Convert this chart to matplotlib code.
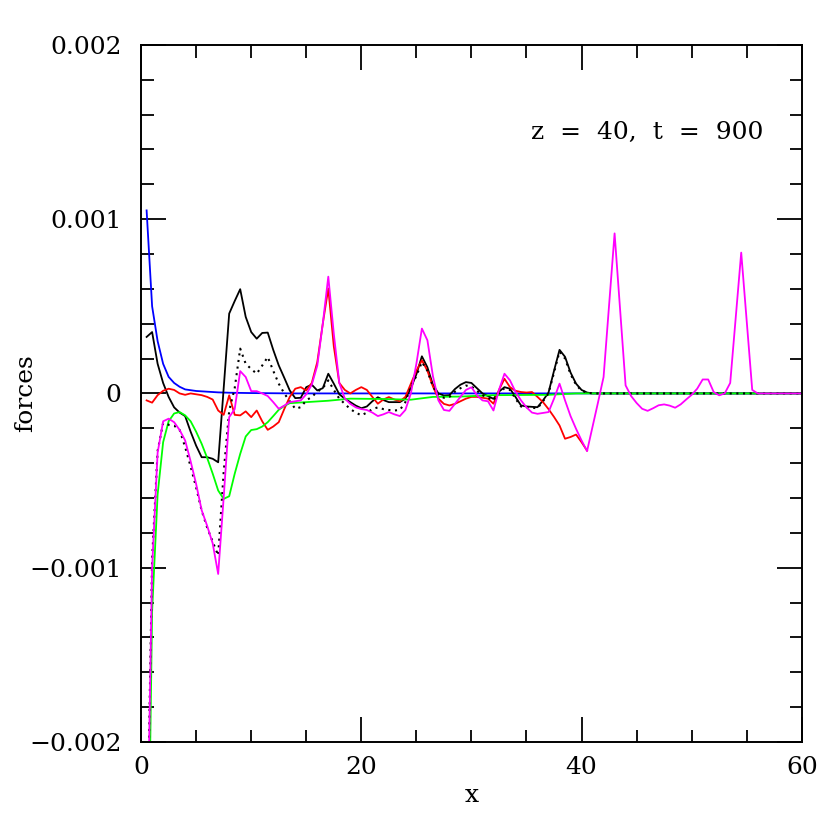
import numpy as np
import matplotlib
matplotlib.use('Agg')
from matplotlib import pyplot as plt
from matplotlib.ticker import MultipleLocator, FixedLocator, FixedFormatter

plt.rcParams['font.family'] = ['DejaVu Serif']

SCALE = 1e-4  # values below are in units of 1e-4

# blue
blue_x = [0.5, 1.0, 1.5, 2.0, 2.5, 3.0, 3.5, 4.0, 5.0, 6.0, 7.0, 8.0, 10.0, 14.0, 60.0]
blue_y = [10.5, 5.0, 3.0, 1.7, 0.95, 0.6, 0.38, 0.23, 0.14, 0.1, 0.06, 0.04, 0.02, 0.0, 0.0]

# black solid
black_x = [0.5, 1.0, 1.5, 2.0, 2.5, 3.0, 3.5, 4.0, 4.5, 5.0, 5.5, 6.0, 6.5, 7.0, 7.5, 8.0, 8.5, 9.0,
           9.5, 10.0, 10.5, 11.0, 11.5, 12.0, 12.5, 13.0, 13.5, 14.0, 14.5, 15.0, 15.5, 16.0, 16.5,
           17.0, 17.5, 18.0, 18.5, 19.0, 19.5, 20.0, 20.5, 21.0, 21.5, 22.0, 22.5, 23.0, 23.5, 24.0,
           24.5, 25.0, 25.5, 26.0, 26.5, 27.0, 27.5, 28.0, 28.5, 29.0, 29.5, 30.0, 30.5, 31.0, 31.5,
           32.0, 32.5, 33.0, 33.5, 34.0, 34.5, 35.0, 36.0, 36.5, 37.0, 37.5, 38.0, 38.5, 39.0, 39.5,
           40.0, 40.5, 41.0, 60.0]
black_y = [3.24, 3.52, 1.7, 0.6, -0.2, -0.8, -1.1, -1.3, -2.2, -3.0, -3.66, -3.66, -3.75, -3.95, 0.3,
           4.58, 5.3, 5.98, 4.39, 3.52, 3.14, 3.47, 3.49, 2.5, 1.61, 0.9, 0.17, -0.27, -0.25, 0.36,
           0.5, 0.17, 0.3, 1.13, 0.56, -0.05, -0.3, -0.5, -0.7, -0.85, -0.75, -0.45, -0.22, -0.38,
           -0.5, -0.5, -0.5, -0.3, 0.3, 1.1, 2.13, 1.5, 0.5, 0.0, -0.12, -0.1, 0.25, 0.5, 0.65, 0.6,
           0.3, 0.0, -0.15, -0.31, 0.1, 0.36, 0.27, -0.2, -0.69, -0.75, -0.79, -0.4, 0.05, 1.3, 2.5,
           2.1, 1.2, 0.56, 0.2, 0.05, 0.0, 0.0]

# black dotted
dot_x = black_x
dot_y = [-28.0, -9.5, -3.3, -1.7, -1.8, -1.85, -2.1, -3.08, -4.2, -5.4, -6.72, -7.7, -8.5, -9.3, -4.5,
         -1.0, 0.3, 2.57, 1.7, 1.4, 1.13, 1.6, 2.09, 1.3, 0.56, 0.0, -0.45, -0.88, -0.79, -0.4, -0.2,
         0.1, 0.3, 0.75, 0.2, -0.3, -0.6, -0.9, -1.1, -1.26, -1.1, -0.9, -0.8, -0.9, -0.95, -0.98,
         -0.95, -0.5, 0.4, 1.0, 1.8, 1.3, 0.4, -0.1, -0.25, -0.2, 0.1, 0.3, 0.45, 0.4, 0.15, -0.1,
         -0.25, -0.4, 0.0, 0.3, 0.2, -0.3, -0.75, -0.8, -0.85, -0.45, 0.0, 1.2, 2.4, 2.0, 1.1, 0.5,
         0.15, 0.05, 0.0, 0.0]

# red
red_x = [0.5, 1.0, 1.5, 2.0, 2.5, 3.0, 3.5, 4.0, 4.5, 5.0, 5.5, 6.0, 6.5, 7.0, 7.5, 8.0, 8.5, 9.0, 9.5,
         10.0, 10.5, 11.0, 11.5, 12.0, 12.5, 13.0, 13.5, 14.0, 14.5, 15.0, 15.5, 16.0, 16.5, 17.0,
         17.5, 18.0, 18.5, 19.0, 19.5, 20.0, 20.5, 21.0, 21.5, 22.0, 22.5, 23.0, 23.5, 24.0, 24.5,
         25.0, 25.5, 26.0, 26.5, 27.0, 27.5, 28.0, 28.5, 29.0, 29.5, 30.0, 30.5, 31.0, 31.5, 32.0,
         32.5, 33.0, 33.5, 34.0, 34.5, 35.0, 35.5, 36.0, 36.5, 37.0, 37.5, 38.0, 38.5, 39.0, 39.5,
         40.0, 40.5]
red_y = [-0.4, -0.53, -0.1, 0.15, 0.27, 0.2, 0.0, -0.08, 0.0, -0.05, -0.1, -0.2, -0.35, -0.98, -1.23,
         -0.11, -1.23, -1.26, -1.03, -1.36, -0.98, -1.6, -2.09, -1.9, -1.65, -0.9, -0.2, 0.27, 0.36,
         0.17, 0.6, 1.8, 4.0, 6.02, 2.7, 0.6, 0.2, 0.0, 0.2, 0.36, 0.2, -0.2, -0.59, -0.35, -0.21,
         -0.35, -0.45, -0.2, 0.56, 1.3, 1.9, 1.3, 0.4, -0.3, -0.6, -0.69, -0.6, -0.45, -0.3, -0.2,
         -0.2, -0.25, -0.3, -0.59, 0.2, 0.84, 0.36, 0.15, 0.08, 0.05, 0.08, -0.2, -0.5, -0.9, -1.35,
         -1.84, -2.6, -2.5, -2.36, -2.8, -3.28]

# green
green_x = [0.5, 1.0, 1.5, 2.0, 2.5, 3.0, 3.5, 4.0, 4.5, 5.0, 5.5, 6.0, 6.5, 7.0, 7.5, 8.0, 8.5, 9.0,
           9.5, 10.0, 10.5, 11.0, 11.5, 12.0, 12.5, 13.0, 13.5, 14.5, 17.0, 19.0, 22.0, 24.5, 26.5,
           29.0, 32.0, 37.0, 39.5, 60.0]
green_y = [-35.0, -12.5, -5.8, -2.8, -1.6, -1.15, -1.07, -1.26, -1.6, -2.2, -2.89, -3.7, -4.6, -5.57,
           -6.05, -5.9, -4.61, -3.47, -2.47, -2.1, -2.05, -1.9, -1.65, -1.3, -0.94, -0.72, -0.56,
           -0.52, -0.42, -0.3, -0.32, -0.36, -0.2, -0.18, -0.1, -0.08, 0.0, 0.0]

# magenta
mag_x = [0.5, 1.0, 1.5, 2.0, 2.5, 3.0, 3.5, 4.0, 4.5, 5.0, 5.5, 6.0, 6.5, 7.0, 7.5, 8.0, 8.5, 9.0, 9.5,
         10.0, 10.5, 11.0, 11.5, 12.0, 12.5, 13.0, 13.5, 14.0, 14.5, 15.0, 15.5, 16.0, 16.5, 17.0,
         17.5, 18.0, 18.5, 19.0, 19.5, 20.0, 20.5, 21.0, 21.5, 22.0, 22.5, 23.0, 23.5, 24.0, 24.5,
         25.0, 25.5, 26.0, 26.5, 27.0, 27.5, 28.0, 28.5, 29.0, 29.5, 30.0, 30.5, 31.0, 31.5, 32.0,
         32.5, 33.0, 33.5, 34.0, 34.5, 35.0, 35.5, 36.0, 37.0, 37.5, 38.0, 38.5, 39.0, 39.5, 40.0,
         40.5, 41.5, 42.0, 43.0, 44.0, 44.5, 45.0, 45.5, 46.0, 46.5, 47.0, 47.5, 48.0, 48.5, 49.0,
         49.5, 50.0, 50.5, 51.0, 51.5, 52.0, 52.5, 53.0, 53.5, 54.5, 55.5, 56.0, 60.0]
mag_y = [-28.5, -10.0, -3.4, -1.6, -1.45, -1.65, -2.1, -2.7, -3.9, -5.2, -6.7, -7.6, -8.6, -10.36,
         -5.96, -1.36, -0.9, 1.28, 0.94, 0.13, 0.13, 0.0, -0.15, -0.5, -0.88, -0.7, -0.5, -0.45,
         -0.4, -0.05, 0.5, 1.6, 4.0, 6.7, 3.43, 0.6, -0.3, -0.6, -0.8, -0.9, -0.95, -1.1, -1.3,
         -1.2, -1.07, -1.2, -1.3, -0.95, 0.0, 1.7, 3.72, 3.05, 1.0, -0.4, -0.95, -1.0, -0.6, -0.2,
         0.2, 0.35, -0.1, -0.4, -0.45, -0.98, 0.2, 1.13, 0.75, 0.1, -0.4, -0.8, -1.1, -1.17, -1.07,
         -0.3, 0.56, -0.4, -1.3, -2.03, -2.7, -3.31, -0.5, 0.94, 9.18, 0.46, -0.15, -0.55, -0.88,
         -1.0, -0.85, -0.68, -0.63, -0.7, -0.82, -0.63, -0.35, -0.08, 0.27, 0.8, 0.8, 0.08, -0.11,
         0.0, 0.6, 8.08, 0.2, 0.0, 0.0]

ytick_vals = [-0.002, -0.001, 0.0, 0.001, 0.002]
ytick_labels = ['\u22120.002', '\u22120.001', '0', '0.001', '0.002']
xtick_vals = [0, 20, 40, 60]
xtick_labels = ['0', '20', '40', '60']
title_text = 'z  =  40,  t  =  900'


def scaled(v):
  return np.array(v) * SCALE


fig = plt.figure(figsize=(8.3, 8.3), dpi=100)
ax = fig.add_axes([0.170, 0.106, 0.796, 0.840])

lw = 1.3
ax.plot(blue_x, scaled(blue_y), color='#0000ff', lw=lw)
ax.plot(black_x, scaled(black_y), color='black', lw=lw)
ax.plot(red_x, scaled(red_y), color='#ff0000', lw=lw)
ax.plot(green_x, scaled(green_y), color='#00ff00', lw=lw)
ax.plot(dot_x, scaled(dot_y), color='black', lw=1.5, linestyle=(0, (1, 2.2)))
ax.plot(mag_x, scaled(mag_y), color='#ff00ff', lw=lw)

ax.set_xlim(0, 60)
ax.set_ylim(-0.002, 0.002)

ax.xaxis.set_major_locator(FixedLocator(xtick_vals))
ax.xaxis.set_major_formatter(FixedFormatter(xtick_labels))
ax.xaxis.set_minor_locator(MultipleLocator(5))
ax.yaxis.set_major_locator(FixedLocator(ytick_vals))
ax.yaxis.set_major_formatter(FixedFormatter(ytick_labels))
ax.yaxis.set_minor_locator(MultipleLocator(0.0002))

ax.tick_params(which='both', direction='in', top=True, right=True, width=1.3, labelsize=18)
ax.tick_params(which='major', length=18)
ax.tick_params(which='minor', length=9)
ax.tick_params(axis='y', pad=14)
ax.tick_params(axis='x', pad=10)
for s in ax.spines.values():
  s.set_linewidth(1.4)

ax.set_xlabel('x', fontsize=18, labelpad=4)
ax.set_ylabel('forces', fontsize=18)
ax.yaxis.set_label_coords(-0.158, 0.5)
ax.text(35.4, 0.0015, title_text, fontsize=18, va='center', ha='left')

fig.savefig('out.png', dpi=100)
